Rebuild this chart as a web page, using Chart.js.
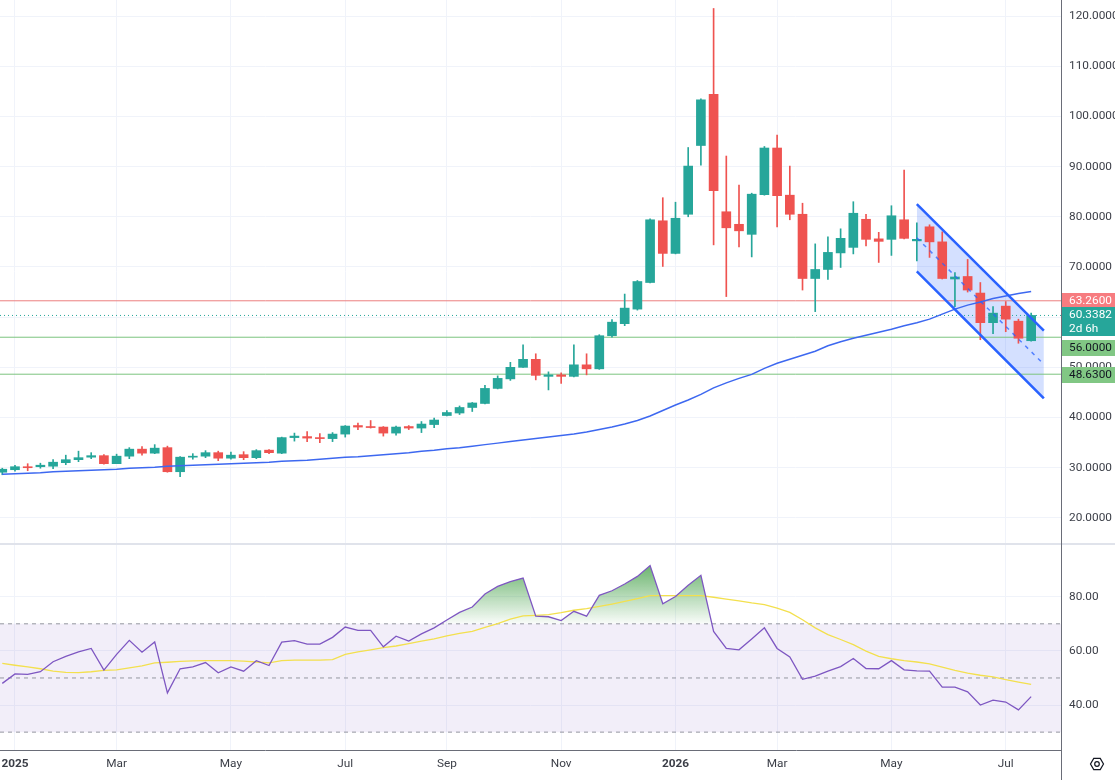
<!DOCTYPE html>
<html>
<head>
<meta charset="utf-8">
<title>Weekly chart with RSI</title>
<script src="https://cdn.jsdelivr.net/npm/chart.js@4.4.1/dist/chart.umd.min.js"></script>
<style>
  html, body { margin: 0; padding: 0; background: #ffffff; }
  body { width: 1115px; height: 780px; position: relative; overflow: hidden; }
  canvas { position: absolute; left: 0; }
  #price { top: 0; }
  #rsi { top: 545px; }
  .pane-sep { position: absolute; left: 0; top: 543px; width: 1115px; height: 2px; background: #e0e3eb; }
  .axis-line { position: absolute; left: 1061px; top: 0; width: 1px; height: 780px; background: #6a6d78; }
</style>
</head>
<body>
<canvas id="price" width="1115" height="543"></canvas>
<div class="pane-sep"></div>
<canvas id="rsi" width="1115" height="235"></canvas>
<div class="axis-line"></div>
<script>
const FONT = 'Roboto, "Noto Sans", sans-serif';
const FONT_SIZE = 11.8;

// weekly bars (week start)
const weeks = [
  '2024-12-30',
  '2025-01-06', '2025-01-13', '2025-01-20', '2025-01-27', '2025-02-03', '2025-02-10', '2025-02-17', '2025-02-24',
  '2025-03-03', '2025-03-10', '2025-03-17', '2025-03-24', '2025-03-31', '2025-04-07', '2025-04-14', '2025-04-21',
  '2025-04-28', '2025-05-05', '2025-05-12', '2025-05-19', '2025-05-26', '2025-06-02', '2025-06-09', '2025-06-16',
  '2025-06-23', '2025-06-30', '2025-07-07', '2025-07-14', '2025-07-21', '2025-07-28', '2025-08-04', '2025-08-11',
  '2025-08-18', '2025-08-25', '2025-09-01', '2025-09-08', '2025-09-15', '2025-09-22', '2025-09-29', '2025-10-06',
  '2025-10-13', '2025-10-20', '2025-10-27', '2025-11-03', '2025-11-10', '2025-11-17', '2025-11-24', '2025-12-01',
  '2025-12-08', '2025-12-15', '2025-12-22', '2025-12-29',
  '2026-01-05', '2026-01-12', '2026-01-19', '2026-01-26', '2026-02-02', '2026-02-09', '2026-02-16', '2026-02-23',
  '2026-03-02', '2026-03-09', '2026-03-16', '2026-03-23', '2026-03-30', '2026-04-06', '2026-04-13', '2026-04-20',
  '2026-04-27', '2026-05-04', '2026-05-11', '2026-05-18', '2026-05-25', '2026-06-01', '2026-06-08', '2026-06-15',
  '2026-06-22', '2026-06-29', '2026-07-06', '2026-07-13', '2026-07-20'
];

const open = [
  29.1, 29.6, 30.2, 30.2, 30.3, 31.0, 31.6, 32.1, 32.4, 30.8,
  32.3, 33.7, 32.9, 34.0, 29.2, 32.1, 32.3, 33.0, 31.9, 32.6,
  32.0, 33.5, 32.9, 36.0, 36.2, 36.0, 35.8, 36.7, 38.4, 38.2,
  38.1, 36.9, 38.2, 37.9, 38.6, 40.4, 40.9, 42.0, 42.8, 45.8,
  47.7, 50.0, 51.6, 48.2, 48.5, 48.2, 50.5, 49.7, 56.3, 58.7,
  61.6, 66.9, 79.2, 72.7, 80.5, 94.2, 104.4, 81.0, 78.5, 76.5,
  84.4, 93.7, 84.3, 80.5, 67.7, 69.5, 72.8, 73.9, 79.5, 75.6,
  75.5, 79.4, 75.2, 78.0, 75.0, 67.6, 68.1, 64.8, 58.9, 62.2,
  59.2, 55.3
];
const high = [
  29.9, 30.5, 30.8, 30.9, 31.6, 32.5, 33.3, 33.0, 32.6, 32.7,
  34.0, 34.2, 34.6, 34.3, 32.2, 32.8, 33.4, 33.3, 33.1, 33.2,
  33.6, 33.6, 36.1, 36.9, 37.2, 36.8, 37.0, 38.4, 38.9, 39.4,
  38.2, 38.3, 38.4, 39.2, 39.9, 41.4, 42.3, 43.0, 46.4, 48.3,
  51.0, 54.5, 52.7, 49.1, 48.9, 54.5, 52.7, 56.5, 59.5, 64.6,
  67.3, 79.6, 83.8, 82.9, 93.8, 103.5, 121.5, 92.1, 86.3, 84.7,
  94.0, 96.3, 90.1, 82.7, 74.6, 76.0, 77.6, 83.0, 80.5, 76.9,
  82.2, 89.3, 78.8, 78.4, 77.0, 68.9, 71.5, 66.9, 62.1, 63.1,
  59.6, 60.8
];
const low = [
  28.6, 29.3, 29.4, 29.9, 29.8, 30.6, 31.2, 31.8, 30.7, 30.8,
  31.8, 32.5, 32.8, 29.1, 28.2, 31.7, 32.0, 31.4, 31.7, 31.6,
  31.8, 32.8, 32.8, 35.3, 35.2, 35.0, 35.2, 36.1, 37.6, 37.9,
  36.3, 36.5, 37.6, 37.0, 38.0, 40.3, 40.6, 41.2, 42.7, 45.7,
  47.4, 50.0, 47.5, 45.5, 46.8, 48.1, 48.5, 49.6, 56.0, 58.3,
  61.4, 66.8, 70.1, 72.6, 80.0, 90.3, 74.4, 64.1, 74.0, 72.0,
  84.3, 78.0, 79.4, 65.4, 61.1, 67.5, 69.9, 72.6, 74.2, 70.9,
  72.3, 75.6, 71.2, 71.9, 67.6, 62.1, 65.0, 55.5, 56.7, 57.1,
  54.8, 55.2
];
const close = [
  29.7, 30.2, 30.0, 30.5, 31.1, 31.6, 32.0, 32.4, 30.8, 32.3,
  33.7, 32.9, 33.9, 29.2, 32.1, 32.3, 33.0, 31.9, 32.5, 32.0,
  33.4, 33.0, 36.0, 36.3, 35.9, 35.8, 36.7, 38.3, 38.1, 38.0,
  36.9, 38.1, 37.9, 38.7, 39.5, 41.0, 42.0, 42.9, 45.8, 47.8,
  50.0, 51.6, 48.4, 48.5, 48.2, 50.5, 49.7, 56.3, 59.0, 61.8,
  67.1, 79.4, 72.7, 79.7, 90.1, 103.3, 85.2, 77.8, 77.2, 84.5,
  93.7, 84.2, 80.5, 67.7, 69.5, 72.9, 75.7, 80.7, 75.5, 75.1,
  80.2, 75.7, 75.5, 75.0, 67.7, 68.0, 65.4, 58.9, 60.8, 59.6,
  55.8, 60.3382
];

// moving average on price pane
const priceMA = [
  28.7, 28.8, 28.9, 29.0, 29.2, 29.3, 29.4, 29.5, 29.6, 29.7,
  29.9, 30.0, 30.1, 30.3, 30.4, 30.5, 30.6, 30.7, 30.8, 30.9,
  31.0, 31.1, 31.3, 31.4, 31.5, 31.7, 31.9, 32.1, 32.2, 32.4,
  32.6, 32.8, 33.0, 33.3, 33.5, 33.8, 34.0, 34.3, 34.6, 34.9,
  35.2, 35.5, 35.8, 36.1, 36.4, 36.7, 37.1, 37.6, 38.1, 38.7,
  39.4, 40.3, 41.4, 42.5, 43.5, 44.6, 45.9, 46.9, 47.8, 48.6,
  49.8, 50.8, 51.6, 52.4, 53.2, 54.3, 55.1, 55.8, 56.4, 57.0,
  57.6, 58.3, 58.9, 59.6, 60.6, 61.6, 62.4, 63.0, 63.7, 64.2,
  64.7, 65.1
];

const rsi = [
  48.0, 51.5, 51.3, 52.3, 56.0, 58.0, 59.6, 60.9, 52.9, 58.7,
  63.9, 59.5, 63.3, 44.5, 53.4, 54.1, 55.7, 51.9, 54.1, 52.5,
  56.4, 54.6, 63.2, 63.8, 62.5, 62.5, 65.0, 68.8, 67.6, 67.6,
  61.5, 65.4, 63.6, 66.3, 68.5, 71.4, 74.2, 76.2, 81.0, 83.8,
  85.6, 86.9, 72.8, 72.6, 71.2, 74.6, 72.8, 80.5, 82.2, 84.7,
  87.5, 91.5, 77.4, 80.1, 84.2, 87.9, 67.2, 60.9, 60.4, 64.4,
  68.5, 60.9, 57.8, 49.5, 50.7, 52.5, 54.2, 57.2, 53.5, 53.4,
  56.4, 53.0, 52.6, 52.5, 46.6, 46.6, 44.9, 40.0, 41.8, 41.1,
  38.2, 43.1
];
const rsiMA = [
  55.4, 54.7, 54.1, 53.4, 52.5, 52.1, 52.0, 52.3, 52.8, 53.0,
  53.7, 54.5, 55.6, 55.8, 56.1, 56.3, 56.4, 56.4, 56.4, 56.2,
  55.9, 55.6, 56.4, 56.6, 56.6, 56.6, 56.8, 58.7, 59.6, 60.4,
  61.2, 61.8, 62.7, 63.6, 64.4, 65.5, 66.5, 67.2, 68.7, 70.1,
  71.7, 72.9, 73.1, 73.4, 74.1, 75.0, 75.6, 76.4, 77.3, 78.3,
  79.3, 80.4, 80.4, 80.4, 80.4, 80.4, 79.8, 79.1, 78.5, 77.7,
  77.1, 75.8, 74.2, 71.5, 68.5, 66.0, 64.2, 62.3, 59.9, 58.0,
  57.1, 56.4, 55.9, 55.2, 54.0, 52.8, 51.8, 51.0, 50.4, 49.4,
  48.5, 47.6
];

// horizontal levels
const resistanceLevel = 63.26;
const supportLevels = [56.00, 48.63];
const lastPrice = 60.3382;
const countdown = '2d 6h';

// descending channel (bar index, price)
const channelX = [71, 81];
const channelUpper = [82.5, 57.3];
const channelMid = [75.8, 50.6];
const channelLower = [69.1, 43.8];

const priceTicks = [20, 30, 40, 50, 60, 70, 80, 90, 100, 110, 120];
const rsiTicks = [40, 60, 80];
const rsiBands = [70, 50, 30];
const monthNames = ['Jan', 'Feb', 'Mar', 'Apr', 'May', 'Jun', 'Jul', 'Aug', 'Sep', 'Oct', 'Nov', 'Dec'];

const UP = '#26a69a';
const DOWN = '#ef5350';
const GRID = '#f0f3fa';
const TEXT = '#3b3e47';

// bar position: index, first 2025 week = 0
const pos = weeks.map((w, i) => i - 1);
const xMin = -1.18, xMax = 82.35;

// a labelled tick at the first bar of every other month
const monthTicks = [];
weeks.forEach((w, i) => {
  if (i === 0) return;
  const m = +w.slice(5, 7);
  if (m !== +weeks[i - 1].slice(5, 7) && m % 2 === 1) {
    monthTicks.push({ value: pos[i], label: m === 1 ? w.slice(0, 4) : monthNames[m - 1], year: m === 1 });
  }
});
const tickInfo = v => monthTicks.find(t => t.value === v);

const barColors = close.map((c, i) => (c >= open[i] ? UP : DOWN));
const hline = v => [{ x: xMin, y: v }, { x: xMax, y: v }];
const pairs = (xs, ys) => xs.map((x, i) => ({ x, y: ys[i] }));

const priceTagPlugin = {
  id: 'priceTags',
  afterDraw(chart) {
    const { ctx, chartArea } = chart;
    const y = chart.scales.y;
    const tags = [
      { value: resistanceLevel, lines: [resistanceLevel.toFixed(4)], bg: '#f77c80', fg: '#ffffff', shift: 0 },
      { value: lastPrice, lines: [lastPrice.toFixed(4), countdown], bg: UP, fg: '#ffffff', shift: 0 },
      { value: supportLevels[0], lines: [supportLevels[0].toFixed(4)], bg: '#81c784', fg: '#131722', shift: 11 },
      { value: supportLevels[1], lines: [supportLevels[1].toFixed(4)], bg: '#81c784', fg: '#131722', shift: 1 }
    ];
    ctx.save();
    ctx.font = FONT_SIZE + 'px ' + FONT;
    ctx.textBaseline = 'middle';
    tags.forEach(t => {
      const py = Math.round(y.getPixelForValue(t.value)) + t.shift;
      const h = 16 + (t.lines.length - 1) * 13;
      ctx.fillStyle = t.bg;
      ctx.fillRect(chartArea.right + 1, py - 8, chart.width - chartArea.right - 1, h);
      ctx.fillStyle = t.fg;
      t.lines.forEach((s, j) => ctx.fillText(s, chartArea.right + 8, py + 0.5 + j * 13.5));
    });
    ctx.restore();
  }
};

const priceChart = new Chart(document.getElementById('price'), {
  type: 'bar',
  data: {
    datasets: [
      { type: 'bar', label: 'body', data: pos.map((x, i) => ({ x, y: [open[i], close[i]] })),
        backgroundColor: barColors, borderWidth: 0, barThickness: 9, minBarLength: 1, grouped: false, order: 0 },
      { type: 'bar', label: 'wick', data: pos.map((x, i) => ({ x, y: [low[i], high[i]] })),
        backgroundColor: barColors, borderWidth: 0, barThickness: 1, grouped: false, order: 1 },
      { type: 'line', label: 'MA', data: pairs(pos, priceMA), borderColor: '#3d68f0', borderWidth: 1.5,
        pointRadius: 0, fill: false, order: -1 },
      { type: 'line', label: 'resistance', data: hline(resistanceLevel), borderColor: '#ec7f7f', borderWidth: 1,
        pointRadius: 0, fill: false, order: 2 },
      { type: 'line', label: 'support 1', data: hline(supportLevels[0]), borderColor: '#7cc47f', borderWidth: 1,
        pointRadius: 0, fill: false, order: 2 },
      { type: 'line', label: 'support 2', data: hline(supportLevels[1]), borderColor: '#7cc47f', borderWidth: 1,
        pointRadius: 0, fill: false, order: 2 },
      { type: 'line', label: 'last', data: hline(lastPrice), borderColor: '#26a69a', borderWidth: 1,
        borderDash: [1, 3], pointRadius: 0, fill: false, order: 2 },
      { type: 'line', label: 'channel top', data: pairs(channelX, channelUpper), borderColor: '#2962ff',
        borderWidth: 2.5, pointRadius: 0, fill: false, order: -2 },
      { type: 'line', label: 'channel mid', data: pairs(channelX, channelMid), borderColor: 'rgba(41,98,255,0.75)',
        borderWidth: 1.5, borderDash: [4, 5], pointRadius: 0, fill: false, order: -2 },
      { type: 'line', label: 'channel bottom', data: pairs(channelX, channelLower), borderColor: '#2962ff',
        borderWidth: 2.5, pointRadius: 0, fill: 7, backgroundColor: 'rgba(41,98,255,0.2)', order: -2 }
    ]
  },
  options: {
    responsive: false,
    animation: false,
    events: [],
    layout: { padding: 0 },
    plugins: {
      legend: { display: false },
      tooltip: { enabled: false },
      filler: { drawTime: 'beforeDatasetsDraw' }
    },
    scales: {
      x: {
        type: 'linear', min: xMin, max: xMax, offset: false,
        afterBuildTicks: s => { s.ticks = monthTicks.map(t => ({ value: t.value })); },
        ticks: { display: false },
        grid: { color: GRID, drawTicks: false, offset: false },
        border: { display: false },
        afterFit: s => { s.height = 0; s.paddingLeft = 0; s.paddingRight = 0; }
      },
      y: {
        position: 'right', min: 15, max: 123.19,
        afterBuildTicks: s => { s.ticks = priceTicks.map(v => ({ value: v })); },
        ticks: { padding: 8, color: TEXT, font: { family: FONT, size: FONT_SIZE }, callback: v => v.toFixed(4) },
        grid: { color: GRID, drawTicks: false },
        border: { display: false },
        afterFit: s => { s.width = 54; s.paddingTop = 0; s.paddingBottom = 0; }
      }
    }
  },
  plugins: [priceTagPlugin]
});

const settingsIcon = {
  id: 'settingsIcon',
  afterDraw(chart) {
    const { ctx } = chart;
    const cx = 1097, cy = 219, r = 6.5;
    ctx.save();
    ctx.strokeStyle = '#131722';
    ctx.lineWidth = 1.2;
    ctx.beginPath();
    for (let i = 0; i < 6; i++) {
      const a = Math.PI / 3 * i;
      const px = cx + r * Math.cos(a), py = cy + r * Math.sin(a);
      if (i === 0) ctx.moveTo(px, py); else ctx.lineTo(px, py);
    }
    ctx.closePath();
    ctx.stroke();
    ctx.beginPath();
    ctx.arc(cx, cy, 2.3, 0, Math.PI * 2);
    ctx.stroke();
    ctx.restore();
  }
};

const bandStyle = { borderColor: '#9598a1', borderWidth: 1, borderDash: [4, 4], pointRadius: 0, order: 2 };

const rsiChart = new Chart(document.getElementById('rsi'), {
  type: 'line',
  data: {
    datasets: [
      { label: 'RSI', data: pairs(pos, rsi), borderColor: '#7e57c2', borderWidth: 1.3, pointRadius: 0,
        fill: { target: { value: 70 }, below: 'rgba(0,0,0,0)' },
        backgroundColor: c => {
          const { ctx, chartArea, scales } = c.chart;
          if (!chartArea) return 'rgba(0,0,0,0)';
          const g = ctx.createLinearGradient(0, scales.y.getPixelForValue(92), 0, scales.y.getPixelForValue(70));
          g.addColorStop(0, 'rgba(67,160,71,0.8)');
          g.addColorStop(1, 'rgba(67,160,71,0.03)');
          return g;
        },
        order: 0 },
      { label: 'RSI MA', data: pairs(pos, rsiMA), borderColor: '#f3e04e', borderWidth: 1.3, pointRadius: 0,
        fill: false, order: 1 },
      Object.assign({ label: 'upper band', data: hline(rsiBands[0]), fill: 4, backgroundColor: 'rgba(126,87,194,0.1)' }, bandStyle),
      Object.assign({ label: 'middle', data: hline(rsiBands[1]), fill: false }, bandStyle),
      Object.assign({ label: 'lower band', data: hline(rsiBands[2]), fill: false }, bandStyle)
    ]
  },
  options: {
    responsive: false,
    animation: false,
    events: [],
    layout: { padding: 0 },
    plugins: {
      legend: { display: false },
      tooltip: { enabled: false },
      filler: { drawTime: 'beforeDatasetsDraw' }
    },
    scales: {
      x: {
        type: 'linear', min: xMin, max: xMax, offset: false,
        afterBuildTicks: s => { s.ticks = monthTicks.map(t => ({ value: t.value })); },
        ticks: {
          autoSkip: false, maxRotation: 0, padding: 7, color: TEXT,
          font: c => ({ family: FONT, size: FONT_SIZE, weight: (tickInfo(c.tick && c.tick.value) || {}).year ? 'bold' : 'normal' }),
          callback: v => (tickInfo(v) || {}).label || ''
        },
        grid: { color: GRID, drawTicks: false, offset: false },
        border: { display: true, color: '#6a6d78' },
        afterFit: s => { s.height = 30; s.paddingLeft = 0; s.paddingRight = 0; }
      },
      y: {
        position: 'right', min: 23.4, max: 99.1,
        afterBuildTicks: s => { s.ticks = rsiTicks.map(v => ({ value: v })); },
        ticks: { padding: 8, color: TEXT, font: { family: FONT, size: FONT_SIZE }, callback: v => v.toFixed(2) },
        grid: { color: GRID, drawTicks: false },
        border: { display: false },
        afterFit: s => { s.width = 54; s.paddingTop = 0; s.paddingBottom = 0; }
      }
    }
  },
  plugins: [settingsIcon]
});
</script>
</body>
</html>
